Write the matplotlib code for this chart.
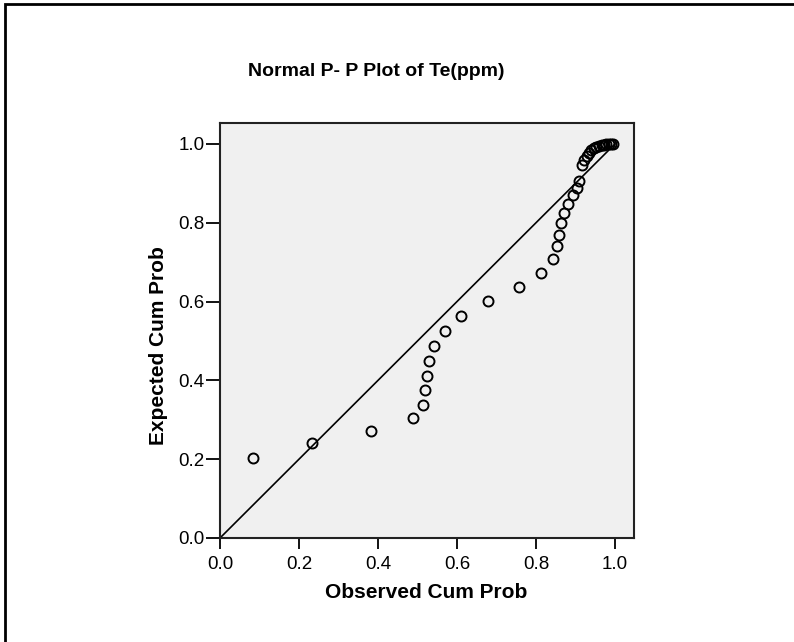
import matplotlib
matplotlib.use("Agg")
import matplotlib.pyplot as plt
from matplotlib.patches import Rectangle

plt.rcParams["font.family"] = ["Liberation Sans", "DejaVu Sans"]

# observed vs expected cumulative probability
observed = [0.084, 0.232, 0.381, 0.489, 0.514, 0.520, 0.524, 0.528, 0.541,
            0.569, 0.611, 0.678, 0.756, 0.813, 0.842, 0.853, 0.857, 0.864,
            0.872, 0.880, 0.894, 0.903, 0.908, 0.916, 0.922, 0.928, 0.934,
            0.940, 0.947, 0.953, 0.960, 0.966, 0.972, 0.978, 0.984, 0.990,
            0.995]
expected = [0.204, 0.240, 0.271, 0.305, 0.338, 0.375, 0.411, 0.449, 0.487,
            0.526, 0.564, 0.602, 0.638, 0.673, 0.708, 0.740, 0.770, 0.799,
            0.825, 0.848, 0.870, 0.889, 0.906, 0.946, 0.958, 0.968, 0.977,
            0.985, 0.990, 0.993, 0.995, 0.997, 0.998, 0.999, 0.9995, 1.0,
            1.0]
ticks = [0.0, 0.2, 0.4, 0.6, 0.8, 1.0]

W, H = 794, 642
fig = plt.figure(figsize=(W / 100, H / 100), dpi=100)

# axes box in pixels: left 220, right 634, top 123, bottom 538
ax = fig.add_axes([220 / W, 1 - 538 / H, 414 / W, 415 / H])
ax.set_facecolor("#f0f0f0")

ax.plot([0, 1], [0, 1], color="black", lw=1.2)
ax.plot(observed, expected, linestyle="none", marker="o", ms=7.2,
        mfc="none", mec="black", mew=1.4)

ax.set_xlim(0, 1.048)
ax.set_ylim(0, 1.053)
ax.set_xticks(ticks)
ax.set_yticks(ticks)
ax.set_xticklabels(["%.1f" % t for t in ticks])
ax.set_yticklabels(["%.1f" % t for t in ticks])
ax.tick_params(axis="x", length=8, width=1.3, pad=5, labelsize=13.5)
ax.tick_params(axis="y", length=10, width=1.3, pad=1, labelsize=13.5)
for s in ax.spines.values():
    s.set_linewidth(1.5)
    s.set_color("#222222")

fig.text(426 / W, 1 - 592 / H, "Observed Cum Prob", ha="center",
         va="center", fontsize=15, fontweight="bold")
fig.text(158 / W, 1 - 346 / H, "Expected Cum Prob", ha="center", va="center",
         rotation=90, fontsize=15, fontweight="bold")
fig.text(248 / W, 1 - 72 / H, "Normal P- P Plot of Te(ppm)", ha="left",
         va="center", fontsize=14, fontweight="bold")

# outer frame (only top and left edge fall inside the picture)
fig.patches.append(Rectangle((5 / W, -0.1), 1.2, 1.1 - 4 / H,
                             transform=fig.transFigure, fill=False,
                             edgecolor="black", lw=2))

fig.savefig("out.png", dpi=100)
